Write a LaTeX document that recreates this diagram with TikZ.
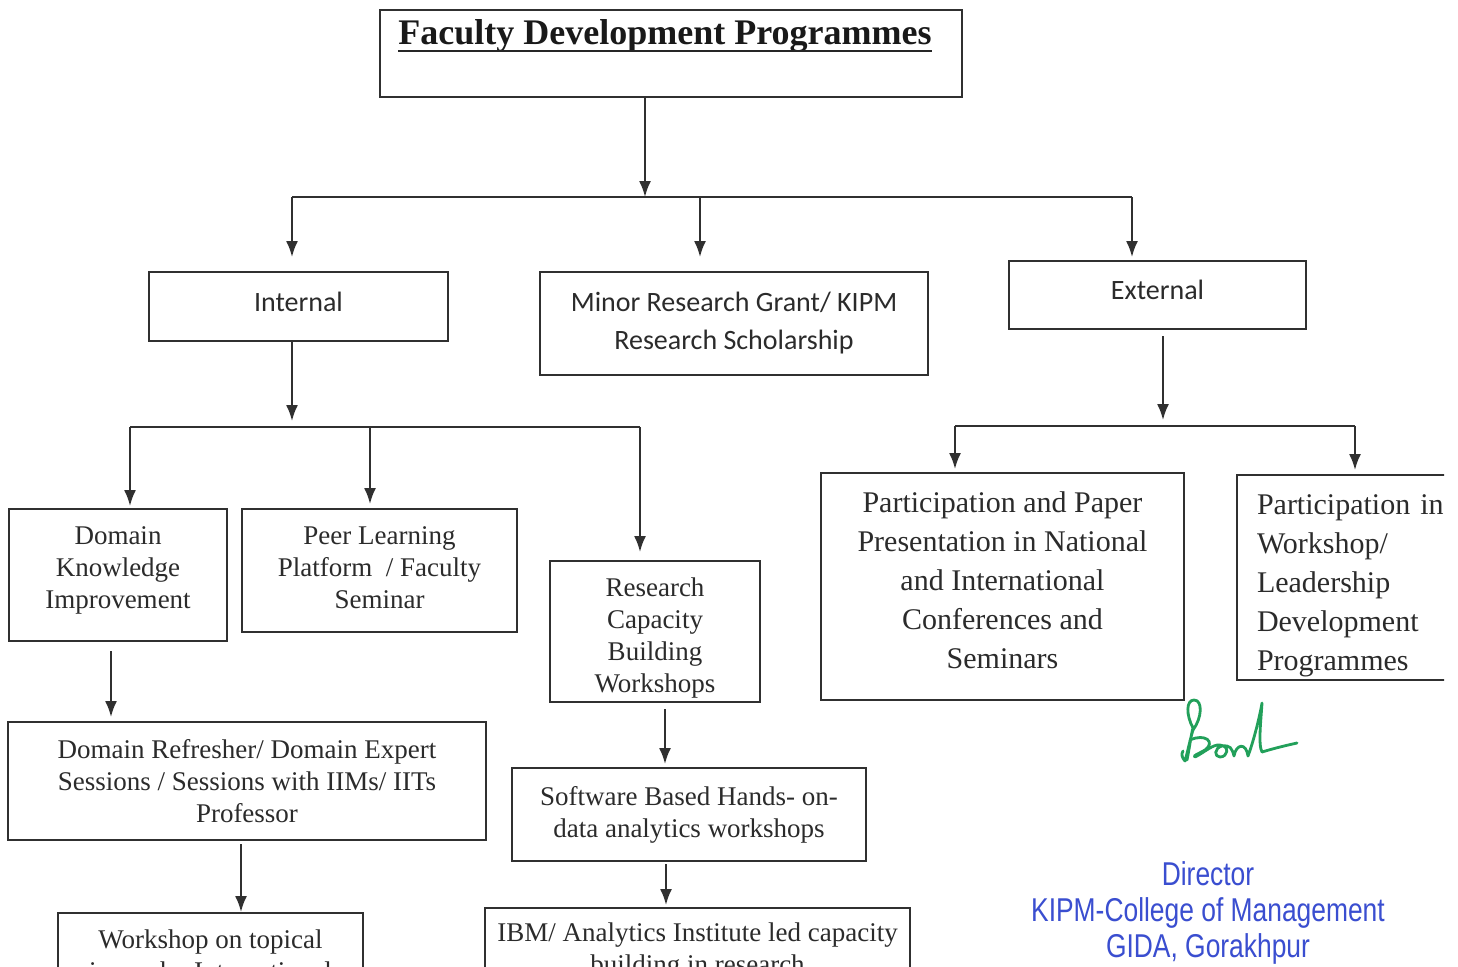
\documentclass[tikz,border=0pt]{standalone}
\usepackage{fontspec}
\setmainfont{Liberation Serif}
\newfontfamily\calfont{Carlito}
\newfontfamily\dirfont[FakeStretch=0.8]{Liberation Sans}
\usetikzlibrary{arrows.meta}
\definecolor{linec}{HTML}{303030}
\definecolor{textc}{HTML}{2B2B2B}
\definecolor{sigc}{HTML}{22A05A}
\definecolor{dirc}{HTML}{3A4ED0}
\tikzset{
  box/.style={draw=linec, line width=1pt, inner sep=0pt, align=center, text=textc},
  arr/.style={draw=linec, line width=1pt, -{Latex[length=8pt,width=6pt]}},
  ln/.style={draw=linec, line width=1pt},
  serifm/.style={font=\fontsize{13.5}{16}\selectfont},
  serifl/.style={font=\fontsize{15}{19.5}\selectfont},
  calf/.style={font=\calfont\fontsize{14}{19}\selectfont},
  sig/.style={draw=sigc, line width=1.4pt, line cap=round, line join=round},
}
\begin{document}
\begin{tikzpicture}[x=0.5pt,y=-0.5pt]
\clip (0,0) rectangle (1458,966);
\fill[white] (0,0) rectangle (1458,966);

% title
\node[box, minimum width=291pt, minimum height=43.5pt] (title) at (671,53.5) {};
\node[anchor=base west, inner sep=0pt, text=black!90, font=\bfseries\fontsize{18}{20}\selectfont] (titletext) at (398,44) {Faculty Development Programmes};
\draw[draw=black!85, line width=1pt] ([yshift=-3.5pt]titletext.base west) -- ([yshift=-3.5pt]titletext.base east);

% level 1
\node[box, calf, minimum width=149.5pt, minimum height=34.5pt, text depth=5pt] (internal) at (298.5,306.5) {Internal};
\node[box, calf, minimum width=194pt, minimum height=51.5pt] (minor) at (734,323.5) {Minor Research Grant/ KIPM\\Research Scholarship};
\node[box, calf, minimum width=148.5pt, minimum height=34pt, text depth=5pt] (external) at (1157.5,295) {External};

% internal children
\node[box, serifm, minimum width=109pt, minimum height=66pt] (dk) at (118,575) {Domain\\Knowledge\\Improvement\rule[-7pt]{0pt}{7pt}};
\node[box, serifm, minimum width=137.5pt, minimum height=61.5pt] (peer) at (379.5,570.5) {Peer Learning\\Platform~ / Faculty\\Seminar\rule[-3pt]{0pt}{3pt}};
\node[box, serifm, minimum width=105pt, minimum height=70.5pt] (rcb) at (655,631.5) {\rule{0pt}{15.5pt}Research\\Capacity\\Building\\Workshops};
\node[box, serifm, minimum width=239pt, minimum height=59pt] (dr) at (247,781) {Domain Refresher/ Domain Expert\\Sessions / Sessions with IIMs/ IITs\\Professor};
\node[box, serifm, anchor=north, minimum width=152.5pt, inner ysep=8.5pt] (ws) at (210.5,912) {Workshop on topical\\issues by International};
\node[box, serifm, minimum width=177pt, minimum height=46.5pt] (sw) at (689,814.5) {Software Based Hands- on-\\data analytics workshops};
\node[box, serifm, anchor=north, minimum width=212.5pt, inner ysep=7.5pt] (ibm) at (697.5,907) {IBM/ Analytics Institute led capacity\\building in research};

% external children
\node[box, serifl, minimum width=181.5pt, minimum height=113.5pt] (ppp) at (1002.5,586.5) {Participation and Paper\\Presentation in National\\and International\\Conferences and\\Seminars\rule[-6pt]{0pt}{6pt}};
\begin{scope}
\clip (0,0) rectangle (1444,966);
\node[box, serifl, align=left, anchor=north west, text width=112pt, inner xsep=10pt, minimum height=102.5pt] (pw) at (1236,474) {\rule{0pt}{18.5pt}Participation in\\Workshop/\\Leadership\\Development\\Programmes};
\end{scope}

% connectors from title
\coordinate (t1) at (645,197);
\coordinate (h1) at (292,197);
\coordinate (h2) at (700,197);
\coordinate (h3) at (1132,197);
\draw[arr] (title.south -| t1) -- (t1);
\draw[ln] (h1) -- (h3);
\draw[arr] (h1) -- ([yshift=7pt]h1 |- internal.north);
\draw[arr] (h2) -- ([yshift=7pt]h2 |- minor.north);
\draw[arr] (h3) -- ([yshift=1.5pt]h3 |- external.north);

% internal branch
\coordinate (i1) at (292,427);
\coordinate (i0) at (130,427);
\coordinate (i2) at (370,427);
\coordinate (i3) at (640,427);
\draw[arr] (internal.south -| i1) -- ([yshift=3pt]i1);
\draw[ln] (i0) -- (i3);
\draw[arr] (i0) -- ([yshift=1pt]i0 |- dk.north);
\draw[arr] (i2) -- ([yshift=2pt]i2 |- peer.north);
\draw[arr] (i3) -- ([yshift=4pt]i3 |- rcb.north);

\coordinate (d1) at (111,0);
\draw[arr] ([yshift=-4.5pt]dk.south -| d1) -- ([yshift=2pt]dr.north -| d1);
\coordinate (d2) at (241,0);
\draw[arr] ([yshift=-1.5pt]dr.south -| d2) -- (ws.north -| d2);
\coordinate (r1) at (665,0);
\draw[arr] ([yshift=-3pt]rcb.south -| r1) -- ([yshift=1.5pt]sw.north -| r1);
\coordinate (r2) at (666,0);
\draw[arr] ([yshift=-1pt]sw.south -| r2) -- ([yshift=1pt]ibm.north -| r2);

% external branch
\coordinate (e1) at (1163,426);
\coordinate (e0) at (955,426);
\coordinate (e2) at (1355,426);
\draw[arr] ([yshift=-3pt]external.south -| e1) -- ([yshift=3pt]e1);
\draw[ln] (e0) -- (e2);
\draw[arr] (e0) -- ([yshift=1.5pt]e0 |- ppp.north);
\draw[arr] (e2) -- ([yshift=2pt]e2 |- pw.north);

% signature
\draw[sig] (1187,760) .. controls (1190,745) and (1191,735) .. (1193,728)
  .. controls (1186,715) and (1186,700) .. (1194,700)
  .. controls (1203,700) and (1202,718) .. (1193,730)
  .. controls (1190,740) and (1188,750) .. (1185,761)
  .. controls (1182,758) and (1181,754) .. (1183,751);
\draw[sig] (1190,740) .. controls (1205,733) and (1216,742) .. (1205,750)
  .. controls (1198,754) and (1192,756) .. (1195,757)
  .. controls (1205,752) and (1213,744) .. (1220,745)
  .. controls (1230,746) and (1228,757) .. (1220,757)
  .. controls (1214,757) and (1214,748) .. (1222,746)
  .. controls (1230,745) and (1232,748) .. (1234,756)
  .. controls (1236,744) and (1246,742) .. (1248,756)
  .. controls (1254,740) and (1260,715) .. (1262,703)
  .. controls (1261,720) and (1258,745) .. (1262,752)
  .. controls (1275,748) and (1288,745) .. (1297,743);

% director stamp
\node[text=dirc, align=center, font=\dirfont\fontsize{16.5}{18}\selectfont, inner sep=0pt] (director) at (1208,913) {Director\\KIPM-College of Management\\GIDA, Gorakhpur};
\end{tikzpicture}
\end{document}
